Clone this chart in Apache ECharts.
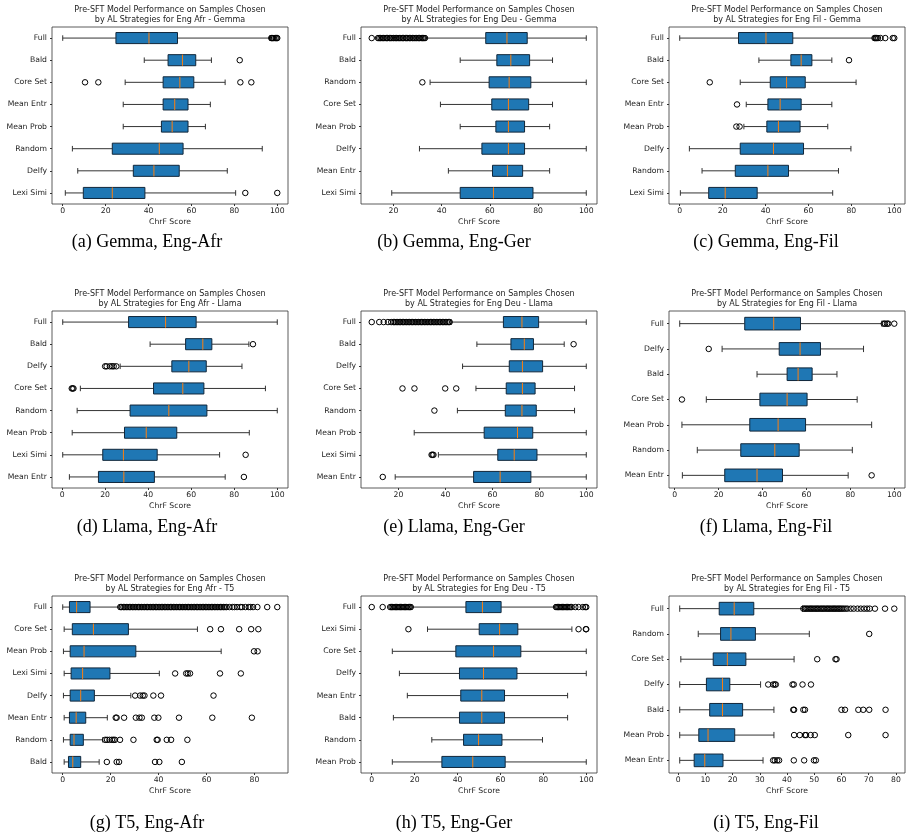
<!DOCTYPE html>
<html>
<head>
<meta charset="utf-8">
<script src="https://cdn.jsdelivr.net/npm/echarts@6/dist/echarts.min.js"></script>
<style>
  html, body { margin: 0; background: #fff; }
  #chart { width: 912px; height: 837px; }
</style>
</head>
<body>
<div id="chart"></div>
<script>
// box rows are [min, q1, median, q3, max]; outliers are listed per category

// (a) Gemma, Eng-Afr
const catsA = ['Full', 'Bald', 'Core Set', 'Mean Entr', 'Mean Prob', 'Random', 'Delfy', 'Lexi Simi'];
const boxesA = [
  [0, 24.8, 40.2, 53.5, 96.5],
  [38, 49.1, 55.8, 62, 69.3],
  [29.1, 46.8, 54.6, 61.1, 75.7],
  [28.2, 46.8, 52.2, 58.4, 68.8],
  [28.2, 46, 51, 58.4, 66.5],
  [4.5, 23.1, 45, 56.1, 93],
  [7, 32.9, 42.5, 54.3, 76.7],
  [1.2, 9.6, 23.1, 38.3, 80.6]
];
const outA = [[97.2, 97.6, 98, 98.5, 99.2, 99.7, 100], [82.5], [10.4, 16.6, 82.8, 87.9], [], [], [], [], [85.1, 100]];

// (b) Gemma, Eng-Ger
const catsB = ['Full', 'Bald', 'Random', 'Core Set', 'Mean Prob', 'Delfy', 'Mean Entr', 'Lexi Simi'];
const boxesB = [
  [33.5, 58.3, 67.1, 75.5, 100],
  [47.7, 62.9, 68.7, 76.5, 86],
  [35.2, 59.7, 68, 77, 100],
  [39.5, 60.8, 67.7, 76.1, 86],
  [47.7, 62.5, 67.7, 74.4, 84.8],
  [30.8, 56.7, 67.7, 74.4, 100],
  [42.8, 61.1, 67.3, 73.6, 84.8],
  [19.3, 47.7, 61.5, 77.9, 100]
];
const outB = [
  [11, 13.6, 14.1, 14.7, 15.3, 15.8, 16.5, 17.1, 17.6, 18.3, 18.9, 19.4, 20.1, 20.7, 21.2, 21.9, 22.4, 23.1,
   23.7, 24.2, 24.9, 25.5, 26, 26.7, 27.2, 27.9, 28.5, 29, 29.7, 30.3, 30.8, 31.5, 32.1, 32.6, 33.1],
  [], [32], [], [], [], [], []
];

// (c) Gemma, Eng-Fil
const catsC = ['Full', 'Bald', 'Core Set', 'Mean Entr', 'Mean Prob', 'Delfy', 'Random', 'Lexi Simi'];
const boxesC = [
  [0, 27.4, 40.2, 52.7, 90.2],
  [36.9, 51.8, 56.6, 61.6, 70.9],
  [28.2, 42.2, 49.8, 58.5, 82.2],
  [31, 41.1, 46.8, 56.6, 70.9],
  [29.9, 40.6, 46, 56.1, 69],
  [4.5, 28.2, 43.7, 57.7, 79.8],
  [10.4, 25.9, 41.1, 50.7, 74],
  [0.3, 13.5, 21.2, 36.1, 71.3]
];
const outC = [[90.8, 91.3, 91.8, 92.4, 93.6, 95.8, 99.3, 100], [78.9], [14], [26.7], [26.4, 27.9], [], [], []];

// (d) Llama, Eng-Afr
const catsD = ['Full', 'Bald', 'Delfy', 'Core Set', 'Random', 'Mean Prob', 'Lexi Simi', 'Mean Entr'];
const boxesD = [
  [0.3, 30.9, 48.1, 62.3, 100],
  [40.9, 57.4, 65.4, 69.6, 86.8],
  [27, 51, 58.9, 67, 83.6],
  [8.5, 42.5, 56.1, 65.9, 94.5],
  [7, 31.6, 49.6, 67.3, 100],
  [4.7, 29, 39.1, 53.3, 87],
  [0.3, 18.9, 28.5, 44.2, 73.2],
  [3.4, 16.9, 28.7, 42.9, 75.8]
];
const outD = [[], [88.7], [20, 20.7, 22.2, 23.2, 24, 25.2], [4.5, 4.9, 5.3], [], [], [85.3], [84.5]];

// (e) Llama, Eng-Ger
const catsE = ['Full', 'Bald', 'Delfy', 'Core Set', 'Random', 'Mean Prob', 'Lexi Simi', 'Mean Entr'];
const boxesE = [
  [42.5, 64.7, 72.6, 79.7, 100],
  [53.4, 67.9, 73.6, 77.5, 90.6],
  [47.3, 67.2, 72.8, 81.4, 100],
  [53, 65.9, 72.8, 78.2, 95],
  [45.1, 65.5, 72.6, 78.7, 95],
  [26.7, 56.5, 70.7, 77.2, 100],
  [37, 62.3, 69.3, 79, 100],
  [18.6, 52, 63.3, 76.4, 100]
];
const outE = [
  [8.6, 11.8, 13.7, 15.5, 16.9, 17.8, 18.4, 19, 19.7, 20.3, 20.9, 21.6, 22.2, 22.8, 23.5, 24.1, 24.7, 25.4,
   26, 26.6, 27.3, 27.9, 28.5, 29.2, 29.8, 30.4, 31.1, 31.7, 32.3, 33, 33.6, 34.2, 34.9, 35.5, 36.1, 36.8,
   37.4, 38, 38.7, 39.3, 39.9, 40.6, 41.2, 41.8],
  [94.6], [], [21.7, 26.8, 39.9, 44.6], [35.3], [], [34.1, 34.5, 34.9], [13.3]
];

// (f) Llama, Eng-Fil
const catsF = ['Full', 'Delfy', 'Bald', 'Core Set', 'Mean Prob', 'Random', 'Mean Entr'];
const boxesF = [
  [2.3, 31.9, 45.1, 57.3, 94.4],
  [21.6, 47.6, 57.1, 66.4, 86],
  [37.5, 51.2, 56.2, 62.6, 73.9],
  [14.4, 38.8, 51.2, 60.3, 83.1],
  [3.3, 34.2, 47.1, 59.6, 89.7],
  [10.3, 30.1, 45.6, 56.7, 80.9],
  [3.5, 22.8, 37.5, 49.1, 79]
];
const outF = [[95.2, 95.8, 96.7, 97.3, 100], [15.5], [], [3.3], [], [], [89.7]];

// (g) T5, Eng-Afr
const catsG = ['Full', 'Core Set', 'Mean Prob', 'Lexi Simi', 'Delfy', 'Mean Entr', 'Random', 'Bald'];
const boxesG = [
  [0, 2.8, 5.8, 11.4, 23.5],
  [0.6, 4, 12.8, 27.4, 56.2],
  [0.3, 3.1, 8.9, 30.5, 66.1],
  [0.6, 3.5, 8.3, 19.7, 40.3],
  [0.3, 3.1, 7.5, 13.2, 28.4],
  [0.6, 2.8, 5.6, 9.6, 18.6],
  [0.3, 3.1, 4.7, 8.6, 16.7],
  [0.6, 2.4, 4.2, 7.5, 15.2]
];
const outG = [
  [24, 24.6, 25.3, 25.9, 26.5, 27.2, 27.8, 28.4, 29.1, 29.7, 30.3, 31, 31.6, 32.2, 32.9, 33.5, 34.1, 34.8,
   35.4, 36, 36.7, 37.3, 37.9, 38.6, 39.2, 39.8, 40.5, 41.1, 41.7, 42.4, 43, 43.6, 44.3, 44.9, 45.5, 46.2,
   46.8, 47.4, 48.1, 48.7, 49.3, 50, 50.6, 51.2, 51.9, 52.5, 53.1, 53.8, 54.4, 55, 55.7, 56.3, 56.9, 57.6,
   58.2, 58.8, 59.5, 60.1, 60.7, 61.4, 62, 62.6, 63.3, 63.9, 64.5, 65.2, 65.8, 66.4, 67.1, 67.7, 68.3,
   69.5, 70.8, 71.6, 72.7, 74.1, 74.8, 76.2, 77.6, 78.3, 79.4, 81.2, 85.3, 89.5],
  [61.5, 66, 73.6, 78.6, 81.6],
  [79.8, 81.3],
  [46.9, 51.5, 52.2, 53.1, 65.6, 74.3],
  [30.2, 32.3, 33.4, 34.1, 37.8, 41, 62.9],
  [22.1, 22.5, 25.6, 30.5, 32, 33, 38.2, 39.9, 48.5, 62.4, 78.9],
  [17.7, 18.5, 19.5, 20.5, 21.2, 21.8, 23.9, 29.5, 39.2, 39.6, 43.4, 45.2, 52],
  [18.4, 22.5, 23.5, 38.5, 40.3, 49.7]
];

// (h) T5, Eng-Ger
const catsH = ['Full', 'Lexi Simi', 'Core Set', 'Delfy', 'Mean Entr', 'Bald', 'Random', 'Mean Prob'];
const boxesH = [
  [18.8, 43.9, 51.6, 60.3, 85.4],
  [26, 50.1, 59.6, 68.1, 93.3],
  [9.6, 39.2, 56.8, 69.5, 100],
  [12.9, 40.9, 52.1, 67.7, 100],
  [16.6, 41.5, 51.3, 61.9, 91.3],
  [10.1, 40.9, 51.3, 61.9, 91.3],
  [28, 42.8, 49.8, 60.7, 79.6],
  [9.6, 32.7, 47.1, 62.2, 100]
];
const outH = [
  [0, 5.1, 8.6, 9.2, 9.8, 10.4, 11, 11.6, 12.2, 12.8, 13.4, 14, 14.6, 15.2, 15.8, 16.4, 17, 17.6, 18.2,
   85.9, 86.5, 87.1, 87.7, 88.3, 88.9, 89.5, 90.1, 90.7, 91.3, 91.9, 92.5, 93.2, 94.9, 96.4, 98.4, 99.5, 100],
  [17.1, 96.4, 99.8, 100], [], [], [], [], [], []
];

// (i) T5, Eng-Fil
const catsI = ['Full', 'Random', 'Core Set', 'Delfy', 'Bald', 'Mean Prob', 'Mean Entr'];
const boxesI = [
  [0.6, 15.1, 20.6, 27.8, 45.7],
  [7.4, 15.6, 19.4, 28.4, 48.2],
  [1, 12.9, 18.1, 24.9, 42.6],
  [0.6, 10.4, 16.3, 19, 30.3],
  [0.6, 11.6, 16.3, 23.7, 35.2],
  [0.6, 7.6, 11, 20.8, 35.2],
  [0.6, 5.9, 9.8, 16.5, 31.2]
];
const outI = [
  [46, 46.5, 47, 47.5, 48.1, 48.6, 49.1, 49.6, 50.2, 50.7, 51.2, 51.7, 52.3, 52.8, 53.3, 53.8, 54.4, 54.9,
   55.4, 55.9, 56.5, 57, 57.5, 58, 58.6, 59.1, 59.6, 60.2, 60.8, 61.5, 62.2, 63.4, 64.5, 65.9, 67.1, 68.3,
   69.4, 70.4, 72.3, 76, 79.4],
  [70.2],
  [51.1, 57.8, 58.2],
  [33.1, 34.9, 35.5, 35.9, 42, 42.5, 45.7, 48.8],
  [42.3, 42.6, 46, 46.6, 60, 61.3, 66.2, 68, 70.2, 76.2],
  [42.6, 44.7, 46.6, 47, 48.7, 50.2, 62.5, 76.2],
  [34.9, 35.5, 36.4, 37.1, 42.5, 46.3, 49.9, 50.6]
];

// x tick labels
const ticks0to100 = [0, 20, 40, 60, 80, 100];
const ticks20to100 = [20, 40, 60, 80, 100];
const ticks0to80 = [0, 20, 40, 60, 80];
const ticks0to80by10 = [0, 10, 20, 30, 40, 50, 60, 70, 80];

const panels = [
  {sub: 'Eng Afr - Gemma', caption: '(a) Gemma, Eng-Afr', cats: catsA, boxes: boxesA, out: outA, ticks: ticks0to100},
  {sub: 'Eng Deu - Gemma', caption: '(b) Gemma, Eng-Ger', cats: catsB, boxes: boxesB, out: outB, ticks: ticks20to100},
  {sub: 'Eng Fil - Gemma', caption: '(c) Gemma, Eng-Fil', cats: catsC, boxes: boxesC, out: outC, ticks: ticks0to100},
  {sub: 'Eng Afr - Llama', caption: '(d) Llama, Eng-Afr', cats: catsD, boxes: boxesD, out: outD, ticks: ticks0to100},
  {sub: 'Eng Deu - Llama', caption: '(e) Llama, Eng-Ger', cats: catsE, boxes: boxesE, out: outE, ticks: ticks20to100},
  {sub: 'Eng Fil - Llama', caption: '(f) Llama, Eng-Fil', cats: catsF, boxes: boxesF, out: outF, ticks: ticks0to100},
  {sub: 'Eng Afr - T5', caption: '(g) T5, Eng-Afr', cats: catsG, boxes: boxesG, out: outG, ticks: ticks0to80},
  {sub: 'Eng Deu - T5', caption: '(h) T5, Eng-Ger', cats: catsH, boxes: boxesH, out: outH, ticks: ticks0to100},
  {sub: 'Eng Fil - T5', caption: '(i) T5, Eng-Fil', cats: catsI, boxes: boxesI, out: outI, ticks: ticks0to80by10}
];

const font = 'DejaVu Sans';
const gridLeft = [52, 361, 669];
const gridTop = [27, 311, 596];
const gridW = 236, gridH = 177;
const captionX = [147, 454, 766];
const captionY = [242, 527, 823];

// draw one box with whiskers, half-width caps and an orange median
function renderBox(params, api) {
  let c = api.value(0);
  let band = api.size([0, 1])[1];
  let hh = band * 0.25;
  let ch = band * 0.125;
  let pMin = api.coord([api.value(1), c]);
  let pQ1 = api.coord([api.value(2), c]);
  let pMed = api.coord([api.value(3), c]);
  let pQ3 = api.coord([api.value(4), c]);
  let pMax = api.coord([api.value(5), c]);
  let y = pMin[1];
  let ws = {stroke: '#333', lineWidth: 1};
  return {
    type: 'group',
    children: [
      {type: 'line', shape: {x1: pMin[0], y1: y, x2: pQ1[0], y2: y}, style: ws},
      {type: 'line', shape: {x1: pQ3[0], y1: y, x2: pMax[0], y2: y}, style: ws},
      {type: 'line', shape: {x1: pMin[0], y1: y - ch, x2: pMin[0], y2: y + ch}, style: ws},
      {type: 'line', shape: {x1: pMax[0], y1: y - ch, x2: pMax[0], y2: y + ch}, style: ws},
      {type: 'rect', shape: {x: pQ1[0], y: y - hh, width: pQ3[0] - pQ1[0], height: 2 * hh},
        style: {fill: '#1f77b4', stroke: '#10263a', lineWidth: 1}},
      {type: 'line', shape: {x1: pMed[0], y1: y - hh, x2: pMed[0], y2: y + hh},
        style: {stroke: '#ff7f0e', lineWidth: 1}}
    ]
  };
}

let grids = [], xAxes = [], yAxes = [], series = [], graphics = [];

panels.forEach(function(p, i) {
  let col = i % 3, row = Math.floor(i / 3);

  // matplotlib style 5% margin around the data range
  let all = [];
  p.boxes.forEach(b => all.push(...b));
  p.out.forEach(o => all.push(...o));
  let lo = Math.min(...all), hi = Math.max(...all);
  let pad = (hi - lo) * 0.05;

  grids.push({
    left: gridLeft[col], top: gridTop[row], width: gridW, height: gridH,
    show: true, borderColor: '#333', borderWidth: 0.8, backgroundColor: 'transparent',
    outerBoundsMode: 'none'
  });

  xAxes.push({
    type: 'value', gridIndex: i, min: lo - pad, max: hi + pad, position: 'bottom',
    name: 'ChrF Score', nameLocation: 'middle', nameGap: 14,
    nameTextStyle: {fontSize: 7.7, color: '#222', fontFamily: font},
    axisLine: {show: false, onZero: false},
    splitLine: {show: false},
    axisTick: {show: true, length: 2, customValues: p.ticks, lineStyle: {color: '#333'}},
    axisLabel: {customValues: p.ticks, margin: 3, fontSize: 7.7, color: '#222', fontFamily: font}
  });

  yAxes.push({
    type: 'category', gridIndex: i, data: p.cats, inverse: true, position: 'left',
    axisLine: {show: false, onZero: false},
    splitLine: {show: false},
    axisTick: {show: true, alignWithLabel: true, interval: 0, length: 2, lineStyle: {color: '#333'}},
    axisLabel: {interval: 0, margin: 5, fontSize: 7.7, color: '#222', fontFamily: font}
  });

  series.push({
    type: 'custom', xAxisIndex: i, yAxisIndex: i,
    renderItem: renderBox,
    encode: {x: [1, 2, 3, 4, 5], y: 0},
    data: p.boxes.map((b, k) => [k].concat(b)),
    silent: true
  });

  let pts = [];
  p.out.forEach(function(vals, k) {
    vals.forEach(v => pts.push([v, k]));
  });
  series.push({
    type: 'scatter', xAxisIndex: i, yAxisIndex: i,
    symbol: 'circle', symbolSize: 5.5,
    itemStyle: {color: 'rgba(0,0,0,0)', borderColor: '#000', borderWidth: 1, opacity: 1},
    data: pts,
    silent: true,
    z: 3
  });

  graphics.push({
    type: 'text', x: gridLeft[col] + gridW / 2, y: gridTop[row] - 11.7,
    style: {
      text: 'Pre-SFT Model Performance on Samples Chosen\nby AL Strategies for ' + p.sub,
      fontSize: 8, lineHeight: 10, fontFamily: font, fill: '#222',
      align: 'center', verticalAlign: 'middle'
    }
  });
  graphics.push({
    type: 'text', x: captionX[col], y: captionY[row],
    style: {
      text: p.caption, fontSize: 18, fontFamily: 'Liberation Serif', fill: '#000',
      align: 'center', verticalAlign: 'middle'
    }
  });
});

let chart = echarts.init(document.getElementById('chart'), null, {renderer: 'canvas'});
chart.setOption({
  animation: false,
  backgroundColor: '#fff',
  grid: grids,
  xAxis: xAxes,
  yAxis: yAxes,
  series: series,
  graphic: graphics
});
</script>
</body>
</html>
